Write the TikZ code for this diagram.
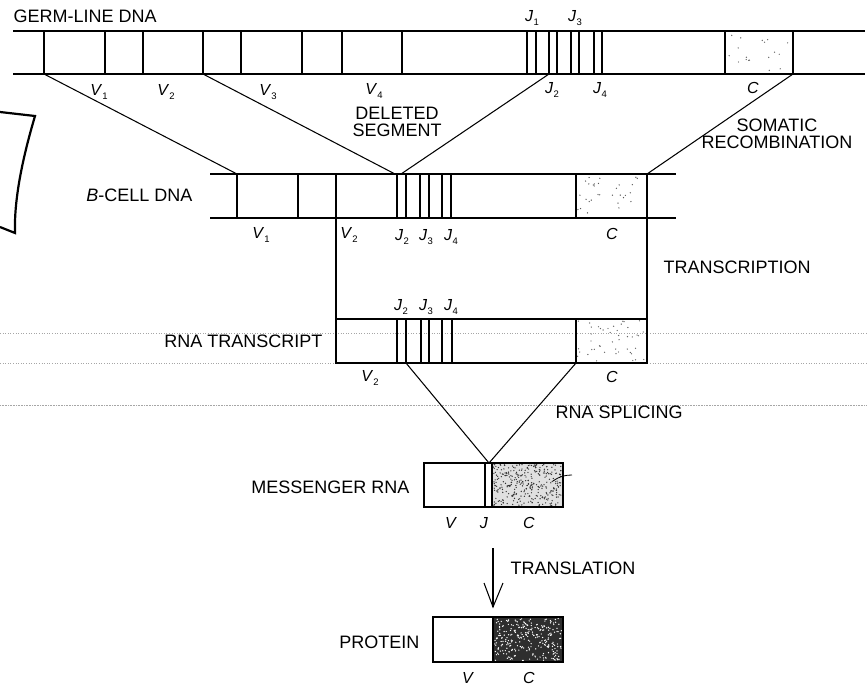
\documentclass[tikz,border=0pt]{standalone}
\usepackage{fontspec}
\setmainfont{Liberation Sans}
\newcommand\segl[2]{\textit{#1}\kern0.3pt\raisebox{-0.3em}{\fontsize{9.5}{9.5}\selectfont #2}}
\newcommand\stip[6]{% x1 y1 x2 y2 count colour
  \foreach \i in {1,...,#5}{%
    \pgfmathsetmacro\rx{#1+1.5+(#3-#1-3)*rnd}%
    \pgfmathsetmacro\ry{#2+1.5+(#4-#2-3)*rnd}%
    \fill[#6] (\rx,\ry) circle (0.7);}}
\begin{document}
\begin{tikzpicture}[x=1pt,y=-1pt,line width=1.2pt,
  lbl/.style={font=\fontsize{18}{18}\selectfont,inner sep=0pt},
  seglbl/.style={font=\fontsize{16}{16}\selectfont,inner sep=0pt},
  conn/.style={line width=1.05pt},
  artefact/.style={line width=0.6pt,gray!70,dotted}]
\useasboundingbox (0,0) rectangle (867,686);
\pgfmathsetseed{11}
% scan artefacts
\draw[artefact] (0,333) -- (867,333);
\draw[artefact] (0,363) -- (867,363);
\draw[artefact,densely dotted] (0,405) -- (867,405);
% left bracket
\draw[line width=2.2pt,line join=miter] (0,112) -- (35,116) .. controls (22,160) and (14,200) .. (15,233) -- (0,227);

% ---------- germ-line DNA ----------
\node[lbl,anchor=west] (glabel) at (13,16) {GERM-LINE DNA};
\stip{725}{31}{793}{74}{18}{black!60}
\draw (13,31) -- (865,31);
\draw (13,74) -- (865,74);
\foreach \x in {44,105,143,203,241,302,342,402,527,536,549,557,571,579,594,602,725,793}
  \draw (\x,31) -- (\x,74);
\coordinate (gV1) at (44,74);
\coordinate (gV2) at (203,74);
\coordinate (gJ2) at (549,74);
\coordinate (gC) at (793,74);
\node[seglbl] (gv1) at (99,92) {\segl{V}{1}};
\node[seglbl] (gv2) at (166,92) {\segl{V}{2}};
\node[seglbl] (gv3) at (268,92) {\segl{V}{3}};
\node[seglbl] (gv4) at (374,91) {\segl{V}{4}};
\node[seglbl] (gj1) at (532,18) {\segl{J}{1}};
\node[seglbl] (gj3) at (575,18) {\segl{J}{3}};
\node[seglbl] (gj2) at (552,90) {\segl{J}{2}};
\node[seglbl] (gj4) at (600,90) {\segl{J}{4}};
\node[seglbl] (gc) at (753,88) {\textit{C}};

% ---------- B-cell DNA ----------
\node[lbl,anchor=east] (blabel) at (193,195) {\textit{B}-CELL DNA};
\stip{576}{174}{647}{218}{30}{black!65}
\draw (210,174) -- (676,174);
\draw (210,218) -- (676,218);
\foreach \x in {237,298,336,397,406,420,429,442,451,576,647}
  \draw (\x,174) -- (\x,218);
\coordinate (bV1) at (237,174);
\coordinate (bJa) at (395,174);
\coordinate (bJb) at (401,174);
\coordinate (bC) at (647,174);
\coordinate (bL) at (336,218);
\coordinate (bR) at (647,218);
\node[seglbl] (bv1) at (261,235) {\segl{V}{1}};
\node[seglbl] (bv2) at (349,235) {\segl{V}{2}};
\node[seglbl] (bj2) at (402,237) {\segl{J}{2}};
\node[seglbl] (bj3) at (426,237) {\segl{J}{3}};
\node[seglbl] (bj4) at (451,237) {\segl{J}{4}};
\node[seglbl] (bc) at (612,234) {\textit{C}};

\draw[conn] (gV1) -- (bV1);
\draw[conn] (gV2) -- (bJa);
\draw[conn] (gJ2) -- (bJb);
\draw[conn] (gC) -- (bC);
\node[lbl] (del1) at (397,113) {DELETED};
\node[lbl] (del2) at (397,130) {SEGMENT};
\node[lbl] (som1) at (777,125) {SOMATIC};
\node[lbl] (som2) at (777,142) {RECOMBINATION};

% ---------- RNA transcript ----------
\node[lbl,anchor=east] (rlabel) at (323,341) {RNA TRANSCRIPT};
\stip{576}{319}{647}{363}{45}{black!60}
\draw (336,319) rectangle (647,363);
\foreach \x in {397,406,421,429,442,452,576}
  \draw (\x,319) -- (\x,363);
\coordinate (rL) at (336,319);
\coordinate (rR) at (647,319);
\draw[conn] (bL) -- (rL);
\draw[conn] (bR) -- (rR);
\node[lbl,anchor=west] (tlabel) at (663,267) {TRANSCRIPTION};
\node[seglbl] (rj2) at (401,307) {\segl{J}{2}};
\node[seglbl] (rj3) at (426,307) {\segl{J}{3}};
\node[seglbl] (rj4) at (451,307) {\segl{J}{4}};
\node[seglbl] (rv2) at (370,378) {\segl{V}{2}};
\node[seglbl] (rc) at (612,377) {\textit{C}};
\coordinate (rJ) at (406,363);
\coordinate (rC) at (576,363);

% ---------- messenger RNA ----------
\node[lbl,anchor=east] (mlabel) at (410,487) {MESSENGER RNA};
\fill[black!12] (492,463) rectangle (563,507);
\stip{492}{463}{563}{507}{320}{black!80}
\draw (424,463) rectangle (563,507);
\draw (485,463) -- (485,507);
\draw (492,463) -- (492,507);
\coordinate (mJ) at (489,463);
\draw[conn] (rJ) -- (mJ);
\draw[conn] (rC) -- (mJ);
\node[lbl,anchor=west] (slabel) at (555,412) {RNA SPLICING};
\draw[line width=0.8pt] (553,481) .. controls (560,476) and (566,475) .. (572,475);
\node[seglbl] (mv) at (451,523) {\textit{V}};
\node[seglbl] (mj) at (484,523) {\textit{J}};
\node[seglbl] (mc) at (529,523) {\textit{C}};

% ---------- translation ----------
\coordinate (aT) at (493,548);
\coordinate (aB) at (493,607);
\draw[conn] (aT) -- (aB);
\draw[conn] (484,583) -- (aB) -- (503,583);
\node[lbl,anchor=west] (trlabel) at (510,568) {TRANSLATION};

% ---------- protein ----------
\node[lbl,anchor=east] (plabel) at (420,642) {PROTEIN};
\fill[black!82] (493,617) rectangle (563,662);
\stip{493}{617}{563}{662}{280}{white}
\draw (433,617) rectangle (563,662);
\draw (493,617) -- (493,662);
\node[seglbl] (pv) at (468,678) {\textit{V}};
\node[seglbl] (pc) at (529,678) {\textit{C}};
\end{tikzpicture}
\end{document}
